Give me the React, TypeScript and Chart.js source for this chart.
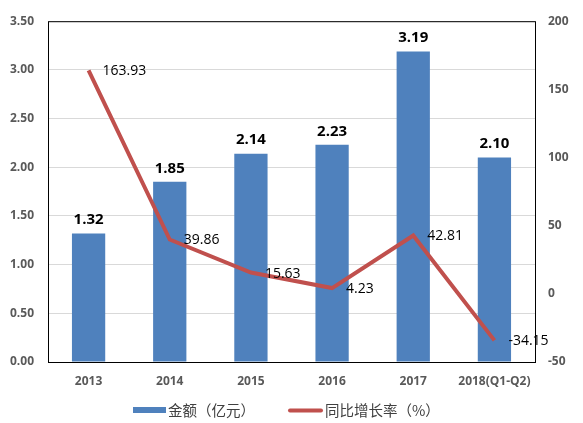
import { useEffect, useRef } from "react";
import { Chart, registerables } from "chart.js";

Chart.register(...registerables);

const categories = ["2013", "2014", "2015", "2016", "2017", "2018(Q1-Q2)"];
const amounts = [1.32, 1.85, 2.14, 2.23, 3.19, 2.1];
const growthRates = [163.93, 39.86, 15.63, 4.23, 42.81, -34.15];
const legendLabels = ["金额（亿元）", "同比增长率（%）"];

const BAR_COLOR = "#4F81BD";
const LINE_COLOR = "#C0504D";
const TICK_COLOR = "#595959";
const TICK_FONT = { family: "'Open Sans', 'Liberation Sans', sans-serif", size: 12, weight: "bold" as const };

// value labels, plot frame and the legend
const overlayPlugin = {
  id: "overlay",
  afterDatasetsDraw(chart: Chart) {
    const ctx = chart.ctx;
    ctx.save();
    const lineMeta = chart.getDatasetMeta(0);
    const barMeta = chart.getDatasetMeta(1);

    ctx.fillStyle = "#000";
    ctx.font = "bold 15px 'Open Sans', 'Liberation Sans', sans-serif";
    ctx.textAlign = "center";
    ctx.textBaseline = "bottom";
    barMeta.data.forEach((el: any, i) => {
      ctx.fillText(amounts[i].toFixed(2), el.x, el.y - 6);
    });

    ctx.font = "14px 'Open Sans', 'Liberation Sans', sans-serif";
    ctx.textAlign = "left";
    ctx.textBaseline = "middle";
    lineMeta.data.forEach((el: any, i) => {
      ctx.fillText(growthRates[i].toFixed(2), el.x + 14, el.y + 1);
    });

    const a = chart.chartArea;
    ctx.strokeStyle = "#000";
    ctx.lineWidth = 1;
    ctx.strokeRect(a.left + 0.5, a.top + 0.5, a.right - a.left, a.bottom - a.top);
    ctx.restore();
  },
  afterDraw(chart: Chart) {
    const ctx = chart.ctx;
    ctx.save();
    const y = 410;
    ctx.fillStyle = BAR_COLOR;
    ctx.fillRect(133, y - 3, 33, 6);
    ctx.strokeStyle = LINE_COLOR;
    ctx.lineWidth = 4;
    ctx.lineCap = "round";
    ctx.beginPath();
    ctx.moveTo(290, y + 0.5);
    ctx.lineTo(321, y + 0.5);
    ctx.stroke();
    ctx.fillStyle = "#404040";
    ctx.font = "14.5px 'Noto Sans CJK SC', sans-serif";
    ctx.textAlign = "left";
    ctx.textBaseline = "middle";
    ctx.fillText(legendLabels[0], 168, y);
    ctx.fillText(legendLabels[1], 325, y);
    ctx.restore();
  },
};

export default function App() {
  const canvasRef = useRef<HTMLCanvasElement>(null);
  const chartRef = useRef<Chart | null>(null);

  useEffect(() => {
    if (!canvasRef.current) return;
    if (chartRef.current) chartRef.current.destroy();

    chartRef.current = new Chart(canvasRef.current, {
      type: "bar",
      data: {
        labels: categories,
        datasets: [
          {
            type: "line",
            label: legendLabels[1],
            data: growthRates,
            yAxisID: "y1",
            borderColor: LINE_COLOR,
            backgroundColor: LINE_COLOR,
            borderWidth: 4,
            pointRadius: 0,
            tension: 0,
            order: 0,
          },
          {
            type: "bar",
            label: legendLabels[0],
            data: amounts,
            yAxisID: "y",
            backgroundColor: BAR_COLOR,
            barPercentage: 0.41,
            categoryPercentage: 1,
            order: 1,
          },
        ],
      },
      options: {
        responsive: false,
        animation: false,
        layout: { padding: { top: 19, bottom: 0, left: 0, right: 0 } },
        plugins: {
          legend: { display: false },
          tooltip: { enabled: false },
        },
        scales: {
          x: {
            grid: { display: false, drawTicks: false },
            border: { display: false },
            ticks: { color: TICK_COLOR, font: TICK_FONT, padding: 12, maxRotation: 0, autoSkip: false },
            afterFit: (s: any) => {
              s.height = 61;
            },
          },
          y: {
            position: "left",
            min: 0,
            max: 3.5,
            grid: { color: "#D9D9D9", drawTicks: false },
            border: { display: false },
            ticks: {
              stepSize: 0.5,
              color: TICK_COLOR,
              font: TICK_FONT,
              padding: 14,
              callback: (v: any) => Number(v).toFixed(2),
            },
            afterFit: (s: any) => {
              s.width = 48;
            },
          },
          y1: {
            position: "right",
            min: -50,
            max: 200,
            grid: { drawOnChartArea: false, drawTicks: false },
            border: { display: false },
            ticks: { stepSize: 50, color: TICK_COLOR, font: TICK_FONT, padding: 13 },
            afterFit: (s: any) => {
              s.width = 48;
            },
          },
        },
      },
      plugins: [overlayPlugin],
    });

    return () => {
      if (chartRef.current) {
        chartRef.current.destroy();
        chartRef.current = null;
      }
    };
  }, []);

  return (
    <div style={{ position: "absolute", left: 0, top: 0, width: 583, height: 423, background: "#fff" }}>
      <canvas ref={canvasRef} width={583} height={423} />
    </div>
  );
}
